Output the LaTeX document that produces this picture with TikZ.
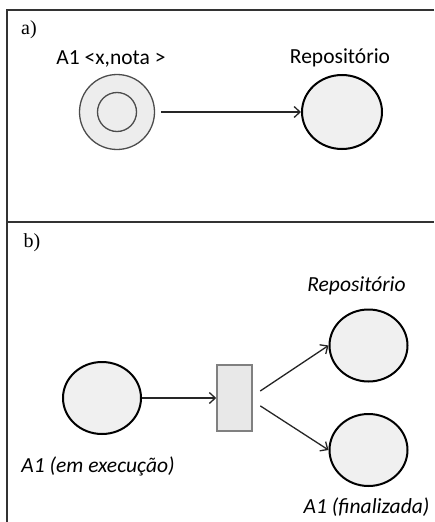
\documentclass[tikz,border=0pt]{standalone}
\usepackage{fontspec}
\newfontfamily\calibri{Carlito}
\newfontfamily\cambria{Liberation Serif}
\usetikzlibrary{shapes.geometric, arrows.meta, positioning}

\begin{document}
\begin{tikzpicture}[
            x=1pt, y=-1pt,
            every node/.style={font=\calibri\fontsize{21.5}{25}\selectfont},
            place/.style={
                ellipse,
                draw,
                line width=2pt,
                fill=black!6,
                minimum width=78pt,
                minimum height=72pt,
                inner sep=0pt
            },
            token/.style={
                circle,
                draw=black!70,
                line width=1.3pt,
                fill=black!7,
                inner sep=0pt
            },
            trans/.style={
                rectangle,
                draw=black!50,
                line width=1.5pt,
                fill=black!9,
                minimum width=35pt,
                minimum height=66pt,
                inner sep=0pt
            },
            lbl/.style={inner sep=0pt, text height=14pt, text depth=4pt},
            partlbl/.style={font=\cambria\fontsize{20}{24}\selectfont, inner sep=0pt},
            arrow/.style={-{Straight Barb[length=6pt,width=11pt]}, line width=1.3pt, draw=black!85}
        ]
        
        \useasboundingbox (0,0) rectangle (434,522);
        
        % Frame
        \draw[line width=2pt, black!80] (434,10) -- (7,10) -- (7,522);
        \draw[line width=2pt, black!80] (7,222) -- (434,222);
        
        % Nodes a)
        \node[partlbl] (parta) at (29,30) {a)};
        
        \node[token, minimum size=75pt] (a1) at (117,112) {};
        \node[token, minimum size=39pt] (a1in) at (a1) {};
        \node[lbl, above=5pt of a1, xshift=-6pt] (a1lbl) {A1 <x,nota >};
        
        \node[place, minimum width=80pt, minimum height=74pt] (repa) at (342,112) {};
        \node[lbl, above=6pt of repa, xshift=-2pt] (repalbl) {Repositório};
        
        % Nodes b)
        \node[partlbl] (partb) at (32,243) {b)};
        
        \node[place] (exec) at (102,398) {};
        \node[lbl, below=23pt of exec, xshift=-4pt] (execlbl) {\itshape A1 (em execução)};
        
        \node[trans] (t1) at (234.5,398) {};
        
        \node[place] (repb) at (368.5,345.5) {};
        \node[lbl, above=13pt of repb, xshift=-12pt] (repblbl) {\itshape Repositório};
        
        \node[place] (fin) at (368.5,450) {};
        \node[lbl, below=12pt of fin, xshift=-2pt] (finlbl) {\itshape A1 (finalizada)};
        
        % Arrows
        \draw[arrow, shorten <=6pt] (a1) -- (repa);
        \draw[arrow] (exec) -- (t1);
        \draw[arrow, shorten <=9pt] ([yshift=2pt]t1.east) -- (repb.west);
        \draw[arrow, shorten <=9pt] ([yshift=-3pt]t1.east) -- (fin.west);
        
        \end{tikzpicture}
\end{document}
